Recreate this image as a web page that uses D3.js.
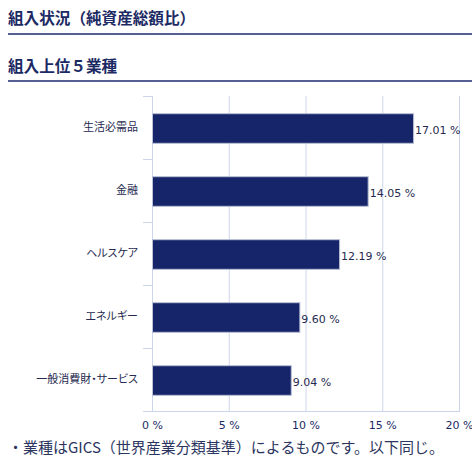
<!DOCTYPE html>
<html>
<head>
<meta charset="utf-8">
<script src="https://cdn.jsdelivr.net/npm/d3@7"></script>
<style>
  body { margin: 0; background: #fff; }
  svg { display: block; }
  .jp { font-family: "Noto Sans CJK JP", "Noto Sans", sans-serif; }
  .palt { font-feature-settings: "palt"; }
  .num { font-family: "DejaVu Sans", Verdana, sans-serif; }
</style>
</head>
<body>
<svg id="chart"></svg>
<script>
// chart data
const categories = ["生活必需品", "金融", "ヘルスケア", "エネルギー", "一般消費財・サービス"];
const values = [17.01, 14.05, 12.19, 9.60, 9.04];
const tickValues = [0, 5, 10, 15, 20];

const titles = ["組入状況（純資産総額比）", "組入上位５業種"];
const footnote = "・業種はGICS（世界産業分類基準）によるものです。以下同じ。";

// page dimensions
const width = 472;
const height = 464;

const plot = { left: 152, right: 459, top: 96, bottom: 411 };

const navy = "#16246a";
const gridColor = "#ccd6eb";

const svg = d3.select("#chart").attr("width", width).attr("height", height);

// headings with underline
const drawTitles = () => {
  const rows = [{ y: 24, line: 34 }, { y: 72, line: 81 }];
  titles.forEach((t, i) => {
    svg.append("text")
      .attr("class", "jp")
      .attr("x", 8)
      .attr("y", rows[i].y)
      .attr("font-size", 15.6)
      .attr("font-weight", "bold")
      .attr("fill", "#1c2a64")
      .text(t);
    svg.append("line")
      .attr("x1", 8).attr("x2", width)
      .attr("y1", rows[i].line).attr("y2", rows[i].line)
      .attr("stroke", "#1c2a6e")
      .attr("stroke-width", 1.5);
  });
};

let xScale, yScale;

const createScales = () => {
  xScale = d3.scaleLinear().domain([0, 20]).range([plot.left, plot.right]);
  yScale = d3.scaleBand()
    .domain(categories)
    .range([plot.top, plot.bottom])
    .paddingInner(0.53)
    .paddingOuter(0.265);
};

const drawGrid = () => {
  // vertical grid lines
  svg.append("g")
    .selectAll("line")
    .data(tickValues)
    .enter()
    .append("line")
    .attr("x1", (d) => xScale(d) + 0.5)
    .attr("x2", (d) => xScale(d) + 0.5)
    .attr("y1", plot.top)
    .attr("y2", plot.bottom)
    .attr("stroke", gridColor)
    .attr("stroke-width", 1);

  // category ticks on the left, between bands
  const step = yScale.step();
  const bounds = categories.map((c) => yScale(c) - step * yScale.paddingInner() / 2);
  svg.append("g")
    .selectAll("line")
    .data(bounds)
    .enter()
    .append("line")
    .attr("x1", plot.left - 9)
    .attr("x2", plot.left)
    .attr("y1", (d) => Math.round(d) + 0.5)
    .attr("y2", (d) => Math.round(d) + 0.5)
    .attr("stroke", gridColor);

  // bottom line
  svg.append("line")
    .attr("x1", plot.left - 9)
    .attr("x2", plot.right + 1)
    .attr("y1", plot.bottom + 0.5)
    .attr("y2", plot.bottom + 0.5)
    .attr("stroke", gridColor);
};

const drawAxes = () => {
  const xAxis = d3.axisBottom(xScale)
    .tickValues(tickValues)
    .tickSize(0)
    .tickPadding(0)
    .tickFormat((d) => d + " %");
  const gx = svg.append("g")
    .attr("transform", "translate(0," + (plot.bottom + 18) + ")")
    .call(xAxis);
  gx.select(".domain").remove();
  gx.selectAll("text")
    .attr("class", "num")
    .attr("font-size", 11)
    .attr("fill", "#1c2a64")
    .attr("dy", "0");

  const yAxis = d3.axisLeft(yScale).tickSize(0).tickPadding(14);
  const gy = svg.append("g")
    .attr("transform", "translate(" + plot.left + ",0)")
    .call(yAxis);
  gy.select(".domain").remove();
  gy.selectAll("text")
    .attr("class", "jp palt")
    .attr("font-size", 11)
    .attr("fill", "#262a50");
};

const drawBars = () => {
  svg.append("g")
    .selectAll("rect")
    .data(values)
    .enter()
    .append("rect")
    .attr("x", xScale(0) + 0.5)
    .attr("y", (d, i) => yScale(categories[i]) + 1)
    .attr("width", (d) => xScale(d) - xScale(0))
    .attr("height", yScale.bandwidth())
    .attr("fill", navy)
    .attr("stroke", "#b9c0d6")
    .attr("stroke-width", 1);

  svg.append("g")
    .selectAll("text")
    .data(values)
    .enter()
    .append("text")
    .attr("class", "num")
    .attr("x", (d) => xScale(d) + 2)
    .attr("y", (d, i) => yScale(categories[i]) + 1 + yScale.bandwidth() / 2 + 5)
    .attr("font-size", 11)
    .attr("fill", "#262a50")
    .text((d) => d.toFixed(2) + " %");
};

const drawFootnote = () => {
  svg.append("text")
    .attr("class", "jp")
    .attr("x", 8)
    .attr("y", 453)
    .attr("font-size", 15)
    .attr("fill", "#2b3560")
    .text(footnote);
};

drawTitles();
createScales();
drawGrid();
drawBars();
drawAxes();
drawFootnote();
</script>
</body>
</html>
